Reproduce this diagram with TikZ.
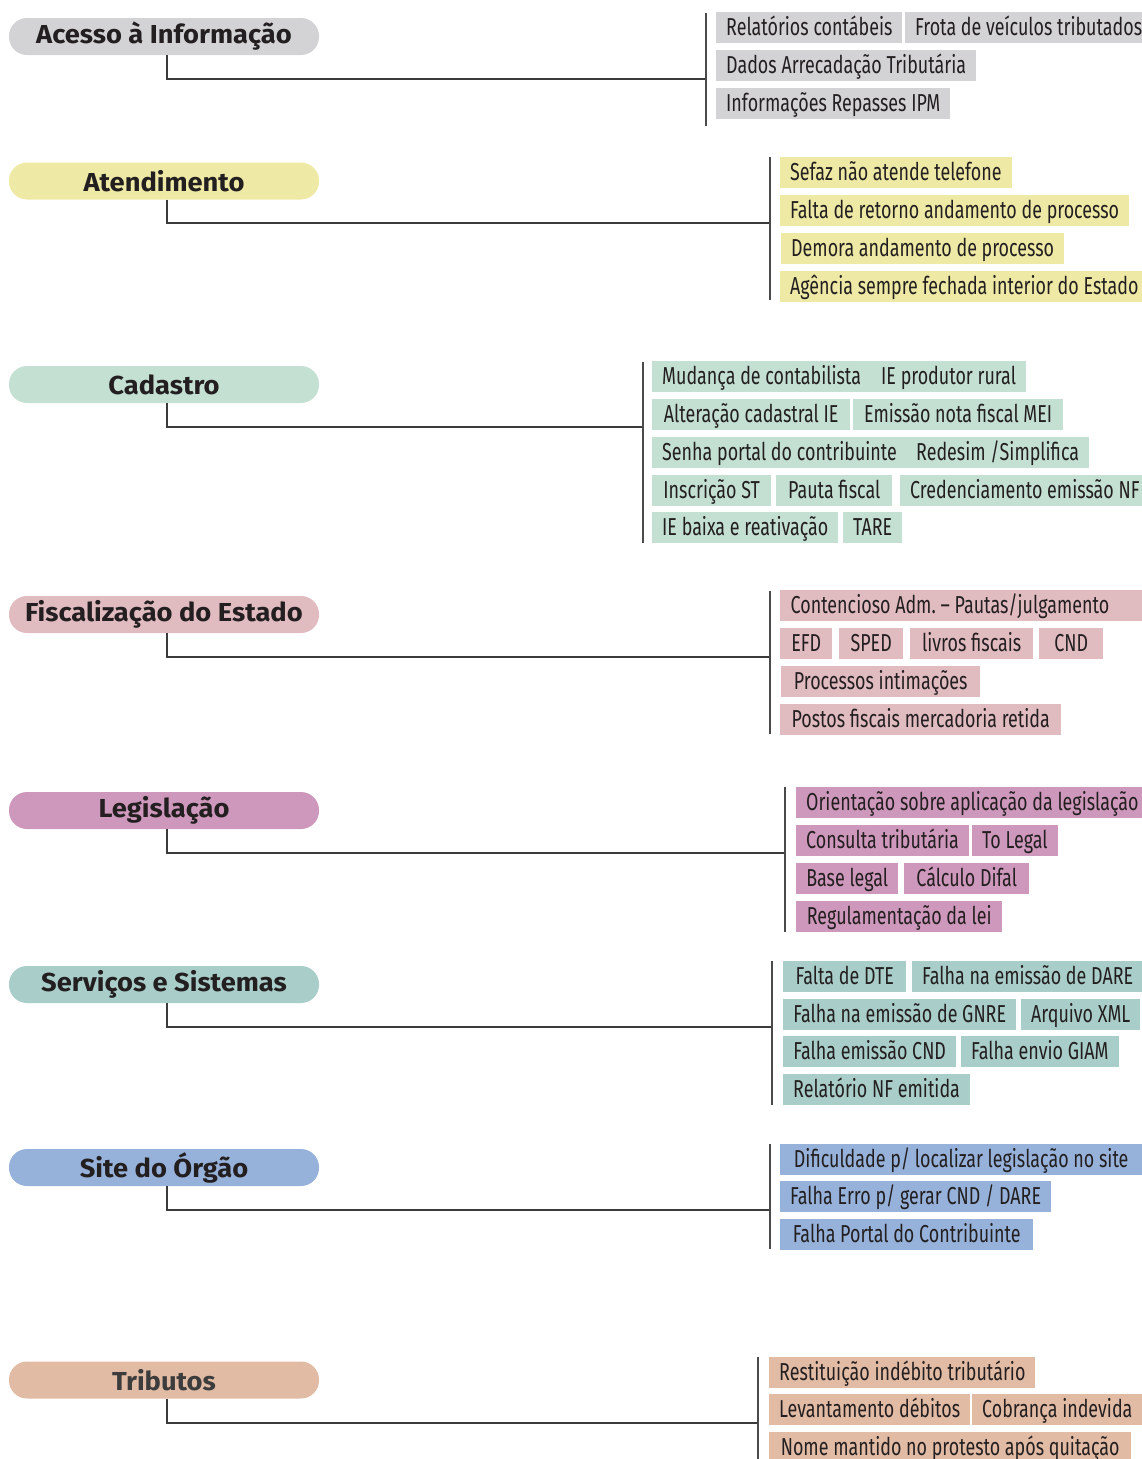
\documentclass[tikz,border=0pt]{standalone}
\usepackage{fontspec}
\newfontfamily\itemfont{Fira Sans}[FakeStretch=0.73]
\newfontfamily\headfont{Fira Sans}[FakeStretch=1.05]
\frenchspacing
\definecolor{ink}{HTML}{231F20}
\definecolor{inkgray}{HTML}{3C3C3C}
\definecolor{linegray}{HTML}{3B3B3B}
\definecolor{bargray}{HTML}{4A4A4A}
\definecolor{cAcc}{HTML}{D3D3D5}
\definecolor{cAte}{HTML}{EEEAA6}
\definecolor{cCad}{HTML}{C4E0D2}
\definecolor{cFis}{HTML}{E0BBC0}
\definecolor{cLeg}{HTML}{CE98BC}
\definecolor{cSer}{HTML}{A9CDC8}
\definecolor{cSit}{HTML}{97B2DA}
\definecolor{cTri}{HTML}{E2BBA5}
\begin{document}
\begin{tikzpicture}[x=1pt,y=-1pt,
    head/.style={rounded corners=18pt, minimum width=310pt, minimum height=37pt, inner sep=0pt,
      font=\headfont\bfseries\fontsize{26}{30}\selectfont, text=ink},
    itm/.style={anchor=north west, minimum height=31pt, inner xsep=10pt, inner ysep=0pt,
      text height=23.5pt, text depth=7.5pt, font=\itemfont\fontsize{24.5}{28}\selectfont, text=ink},
    link/.style={draw=linegray, line width=2pt},
    bar/.style={draw=bargray, line width=2pt}]
  \useasboundingbox (0,0) rectangle (1142,1459);

  \node[head, fill=cAcc] (acc) at (164,36.5) {Acesso à Informação};
  \node[head, fill=cAte] (ate) at (164,181) {Atendimento};
  \node[head, fill=cCad] (cad) at (164,384.5) {Cadastro};
  \node[head, fill=cFis] (fis) at (164,614.5) {Fiscalização do Estado};
  \node[head, fill=cLeg] (leg) at (164,810.5) {Legislação};
  \node[head, fill=cSer] (ser) at (164,984.5) {Serviços e Sistemas};
  \node[head, fill=cSit] (sit) at (164,1167.5) {Site do Órgão};
  \node[head, fill=cTri, text=inkgray] (tri) at (164,1380) {Tributos};

  \node[itm, fill=cAcc, minimum width=183pt] (acc1) at (716,12) {Relatórios contábeis};
  \node[itm, fill=cAcc, minimum width=241pt] (acc2) at (905,12) {Frota de veículos tributados};
  \node[itm, fill=cAcc, minimum width=258pt] (acc3) at (716,50) {Dados Arrecadação Tributária};
  \node[itm, fill=cAcc, minimum width=234pt] (acc4) at (716,88) {Informações Repasses IPM};

  \node[itm, fill=cAte, minimum width=229pt] (ate1) at (780,157) {Sefaz não atende telefone};
  \node[itm, fill=cAte, minimum width=343pt] (ate2) at (780,195) {Falta de retorno andamento de processo};
  \node[itm, fill=cAte, minimum width=281pt] (ate3) at (781,233) {Demora andamento de processo};
  \node[itm, fill=cAte, minimum width=362pt] (ate4) at (780,271) {Agência sempre fechada interior do Estado};

  \node[itm, fill=cCad, minimum width=214pt] (cad1) at (652,361) {Mudança de contabilista};
  \node[itm, fill=cCad, minimum width=152pt] (cad2) at (871,361) {IE produtor rural};
  \node[itm, fill=cCad, minimum width=198pt] (cad3) at (652,399) {Alteração cadastral IE};
  \node[itm, fill=cCad, minimum width=210pt] (cad4) at (853,399) {Emissão nota fiscal MEI};
  \node[itm, fill=cCad, minimum width=249pt] (cad5) at (652,437) {Senha portal do contribuinte};
  \node[itm, fill=cCad, minimum width=179pt] (cad6) at (906,437) {Redesim /Simplifica};
  \node[itm, fill=cCad, minimum width=119pt] (cad7) at (652,475) {Inscrição ST};
  \node[itm, fill=cCad, minimum width=116pt] (cad8) at (776,475) {Pauta fiscal};
  \node[itm, fill=cCad, minimum width=244pt] (cad9) at (900,475) {Credenciamento emissão NF};
  \node[itm, fill=cCad, minimum width=186pt] (cad10) at (652,512) {IE baixa e reativação};
  \node[itm, fill=cCad, minimum width=55pt] (cad11) at (843,512) {TARE};

  \node[itm, fill=cFis, minimum width=362pt] (fis1) at (780,590) {\makebox[341pt][l]{Contencioso Adm. – Pautas/julgamento}};
  \node[itm, fill=cFis, minimum width=52pt] (fis2) at (780,628) {EFD};
  \node[itm, fill=cFis, minimum width=64pt] (fis3) at (839,628) {SPED};
  \node[itm, fill=cFis, minimum width=123pt] (fis4) at (910,628) {livros fiscais};
  \node[itm, fill=cFis, minimum width=64pt] (fis5) at (1039,628) {CND};
  \node[itm, fill=cFis, minimum width=199pt] (fis6) at (781,666) {Processos intimações};
  \node[itm, fill=cFis, minimum width=281pt] (fis7) at (780,704) {Postos fiscais mercadoria retida};

  \node[itm, fill=cLeg, minimum width=346pt] (leg1) at (796,787) {Orientação sobre aplicação da legislação};
  \node[itm, fill=cLeg, minimum width=170pt] (leg2) at (796,825) {Consulta tributária};
  \node[itm, fill=cLeg, minimum width=85pt] (leg3) at (972,825) {To Legal};
  \node[itm, fill=cLeg, minimum width=102pt] (leg4) at (796,863) {Base legal};
  \node[itm, fill=cLeg, minimum width=125pt] (leg5) at (904,863) {Cálculo Difal};
  \node[itm, fill=cLeg, minimum width=206pt] (leg6) at (796,901) {Regulamentação da lei};

  \node[itm, fill=cSer, minimum width=123pt] (ser1) at (783,961) {Falta de DTE};
  \node[itm, fill=cSer, minimum width=230pt] (ser2) at (912,961) {Falha na emissão de DARE};
  \node[itm, fill=cSer, minimum width=233pt] (ser3) at (783,999) {Falha na emissão de GNRE};
  \node[itm, fill=cSer, minimum width=113pt] (ser4) at (1021,999) {Arquivo XML};
  \node[itm, fill=cSer, minimum width=173pt] (ser5) at (783,1036) {Falha emissão CND};
  \node[itm, fill=cSer, minimum width=151pt] (ser6) at (961,1036) {Falha envio GIAM};
  \node[itm, fill=cSer, minimum width=181pt] (ser7) at (783,1074) {Relatório NF emitida};

  \node[itm, fill=cSit, minimum width=362pt] (sit1) at (780,1144) {Dificuldade p/ localizar legislação no site};
  \node[itm, fill=cSit, minimum width=269pt] (sit2) at (780,1181) {Falha Erro p/ gerar CND / DARE};
  \node[itm, fill=cSit, minimum width=253pt] (sit3) at (780,1219) {Falha Portal do Contribuinte};

  \node[itm, fill=cTri, minimum width=262pt] (tri1) at (769,1357) {Restituição indébito tributário};
  \node[itm, fill=cTri, minimum width=197pt] (tri2) at (769,1394) {Levantamento débitos};
  \node[itm, fill=cTri, minimum width=170pt] (tri3) at (972,1394) {Cobrança indevida};
  \node[itm, fill=cTri, minimum width=362pt] (tri4) at (769,1432) {Nome mantido no protesto após quitação};

  \coordinate (accj) at (706,79);
  \coordinate (atej) at (770,223);
  \coordinate (cadj) at (643,427);
  \coordinate (fisj) at (770,657);
  \coordinate (legj) at (785,853);
  \coordinate (serj) at (772,1027);
  \coordinate (sitj) at (770,1210);
  \coordinate (trij) at (758,1423);

  \draw[link] ([xshift=3pt]acc.south) |- (accj);
  \draw[link] ([xshift=3pt]ate.south) |- (atej);
  \draw[link] ([xshift=3pt]cad.south) |- (cadj);
  \draw[link] ([xshift=3pt]fis.south) |- (fisj);
  \draw[link] ([xshift=3pt]leg.south) |- (legj);
  \draw[link] ([xshift=3pt]ser.south) |- (serj);
  \draw[link] ([xshift=3pt]sit.south) |- (sitj);
  \draw[link] ([xshift=3pt]tri.south) |- (trij);

  \draw[bar] (706,13) -- (706,126);
  \draw[bar] (770,157) -- (770,300);
  \draw[bar] (643,362) -- (643,543);
  \draw[bar] (770,591) -- (770,734);
  \draw[bar] (785,787) -- (785,932);
  \draw[bar] (772,961) -- (772,1105);
  \draw[bar] (770,1144) -- (770,1249);
  \draw[bar] (758,1357) -- (758,1459);
\end{tikzpicture}
\end{document}
